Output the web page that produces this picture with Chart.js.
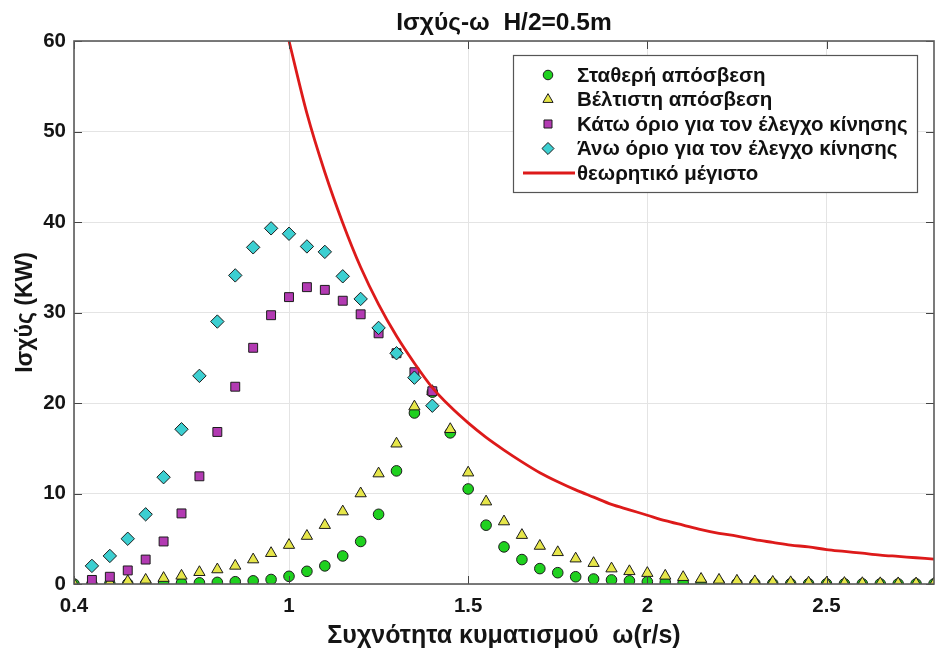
<!DOCTYPE html>
<html>
<head>
<meta charset="utf-8">
<script src="https://cdn.jsdelivr.net/npm/chart.js@4.4.1/dist/chart.umd.min.js"></script>
<style>
  html, body { margin: 0; padding: 0; background: #ffffff; }
  #wrap { width: 944px; height: 662px; }
</style>
</head>
<body>
<div id="wrap"><canvas id="chart" width="944" height="662"></canvas></div>
<script>
// Wave frequency ω (rad/s)
const omega = [
  0.40, 0.45, 0.50, 0.55, 0.60, 0.65, 0.70, 0.75, 0.80, 0.85,
  0.90, 0.95, 1.00, 1.05, 1.10, 1.15, 1.20, 1.25, 1.30, 1.35,
  1.40, 1.45, 1.50, 1.55, 1.60, 1.65, 1.70, 1.75, 1.80, 1.85,
  1.90, 1.95, 2.00, 2.05, 2.10, 2.15, 2.20, 2.25, 2.30, 2.35,
  2.40, 2.45, 2.50, 2.55, 2.60, 2.65, 2.70, 2.75, 2.80
];

const xTickValues = [0.4, 1, 1.5, 2, 2.5];

// Power (kW) – constant damping
const constantDamping = [
  0.00, 0.00, 0.02, 0.03, 0.05, 0.07, 0.10, 0.13, 0.18, 0.25,
  0.35, 0.50, 0.85, 1.40, 2.00, 3.10, 4.70, 7.70, 12.5, 18.9,
  21.2, 16.7, 10.5, 6.50, 4.10, 2.70, 1.70, 1.25, 0.80, 0.55,
  0.45, 0.35, 0.25, 0.18, 0.13, 0.10, 0.08, 0.06, 0.05, 0.04,
  0.03, 0.03, 0.02, 0.02, 0.02, 0.01, 0.01, 0.01, 0.01
];

// Power (kW) – optimal damping
const optimalDamping = [
  0.00, 0.10, 0.15, 0.30, 0.45, 0.65, 0.90, 1.30, 1.60, 2.00,
  2.70, 3.40, 4.30, 5.30, 6.50, 8.00, 10.0, 12.2, 15.5, 19.6,
  21.3, 17.1, 12.3, 9.10, 6.90, 5.40, 4.20, 3.50, 2.80, 2.30,
  1.70, 1.40, 1.20, 0.90, 0.75, 0.55, 0.45, 0.35, 0.28, 0.22,
  0.18, 0.15, 0.12, 0.10, 0.08, 0.07, 0.06, 0.05, 0.04
];

// Power (kW) – lower bound for motion control
const lowerMotionLimit = [
  null, 0.45, 0.80, 1.50, 2.70, 4.70, 7.80, 11.9, 16.8, 21.8,
  26.1, 29.7, 31.7, 32.8, 32.5, 31.3, 29.8, 27.7, 25.5, 23.4,
  21.3, null, null, null, null, null, null, null, null, null,
  null, null, null, null, null, null, null, null, null, null,
  null, null, null, null, null, null, null, null, null
];

// Power (kW) – upper bound for motion control
const upperMotionLimit = [
  null, 2.00, 3.10, 5.00, 7.70, 11.8, 17.1, 23.0, 29.0, 34.1,
  37.2, 39.3, 38.7, 37.3, 36.7, 34.0, 31.5, 28.3, 25.5, 22.8,
  19.7, null, null, null, null, null, null, null, null, null,
  null, null, null, null, null, null, null, null, null, null,
  null, null, null, null, null, null, null, null, null
];

// Power (kW) – theoretical maximum
const theoreticalMax = [
  null, null, null, null, null, null, null, null, null, null,
  null, null, 60.0, 52.0, 45.5, 39.9, 35.0, 30.9, 27.4, 24.4,
  21.7, 19.6, 17.8, 16.2, 14.8, 13.5, 12.3, 11.3, 10.4, 9.60,
  8.80, 8.20, 7.60, 7.00, 6.50, 6.00, 5.60, 5.30, 4.90, 4.60,
  4.30, 4.10, 3.80, 3.60, 3.40, 3.20, 3.05, 2.90, 2.75
];

const seriesNames = [
  'Σταθερή απόσβεση',
  'Βέλτιστη απόσβεση',
  'Κάτω όριο για τον έλεγχο κίνησης',
  'Άνω όριο για τον έλεγχο κίνησης',
  'θεωρητικό μέγιστο'
];

const FONT = '"Liberation Sans", Arial, Helvetica, sans-serif';
Chart.defaults.font.family = FONT;
Chart.defaults.color = '#1a1a1a';

function toPoints(values) {
  const pts = [];
  values.forEach((v, i) => { if (v !== null) pts.push({ x: omega[i], y: v }); });
  return pts;
}

const EDGE = '#1c1c1c';

function markerSet(label, values, style, fill, radius, order) {
  return {
    type: 'scatter',
    label,
    data: toPoints(values),
    pointStyle: style,
    pointRadius: radius,
    pointHoverRadius: radius,
    pointBackgroundColor: fill,
    pointBorderColor: EDGE,
    pointBorderWidth: 1,
    showLine: false,
    order
  };
}

// Legend box drawn inside the plot area, top right
const boxLegend = {
  id: 'boxLegend',
  afterDraw(chart) {
    const ctx = chart.ctx;
    const x0 = 513, y0 = 55, w = 404, h = 137;
    ctx.save();
    ctx.fillStyle = '#ffffff';
    ctx.fillRect(x0, y0, w, h);
    ctx.strokeStyle = '#555555';
    ctx.lineWidth = 1.2;
    ctx.strokeRect(x0 + 0.5, y0 + 0.5, w, h);
    ctx.font = 'bold 20.5px ' + FONT;
    ctx.textBaseline = 'middle';
    const rowY = [75, 99.5, 124, 148.5, 173];
    const symX = 548;
    const textX = 577;
    chart.data.datasets.forEach((ds, i) => {
      const y = rowY[i];
      if (ds.type === 'line') {
        ctx.strokeStyle = ds.borderColor;
        ctx.lineWidth = ds.borderWidth;
        ctx.beginPath();
        ctx.moveTo(523, y);
        ctx.lineTo(575, y);
        ctx.stroke();
      } else {
        ctx.fillStyle = ds.pointBackgroundColor;
        ctx.strokeStyle = ds.pointBorderColor;
        ctx.lineWidth = 1;
        Chart.helpers.drawPoint(ctx, {
          pointStyle: ds.pointStyle,
          radius: ds.pointRadius * 0.9,
          rotation: 0,
          borderWidth: 1
        }, symX, y);
      }
      ctx.fillStyle = '#111111';
      ctx.fillText(ds.label, textX, y + 1);
    });
    ctx.restore();
  }
};

// Axes frame with inward tick marks on all four sides
const axesFrame = {
  id: 'axesFrame',
  afterDatasetsDraw(chart) {
    const { ctx, chartArea: a } = chart;
    const xs = chart.scales.x, ys = chart.scales.y;
    const tl = 8;
    ctx.save();
    ctx.strokeStyle = '#444444';
    ctx.lineWidth = 1;
    ctx.beginPath();
    xs.ticks.forEach(t => {
      const px = Math.round(xs.getPixelForValue(t.value)) + 0.5;
      ctx.moveTo(px, a.bottom); ctx.lineTo(px, a.bottom - tl);
      ctx.moveTo(px, a.top); ctx.lineTo(px, a.top + tl);
    });
    ys.ticks.forEach(t => {
      const py = Math.round(ys.getPixelForValue(t.value)) + 0.5;
      ctx.moveTo(a.left, py); ctx.lineTo(a.left + tl, py);
      ctx.moveTo(a.right, py); ctx.lineTo(a.right - tl, py);
    });
    ctx.stroke();
    ctx.strokeStyle = '#5a5a5a';
    ctx.lineWidth = 1.6;
    ctx.strokeRect(a.left, a.top, a.right - a.left, a.bottom - a.top);
    ctx.restore();
  }
};

new Chart(document.getElementById('chart'), {
  data: {
    datasets: [
      markerSet(seriesNames[0], constantDamping, 'circle', '#1fd11f', 5.3, 5),
      markerSet(seriesNames[1], optimalDamping, 'triangle', '#e6e64a', 6.5, 4),
      markerSet(seriesNames[2], lowerMotionLimit, 'rect', '#b23ab2', 6.3, 3),
      markerSet(seriesNames[3], upperMotionLimit, 'rectRot', '#3ccfd1', 6.7, 2),
      {
        type: 'line',
        label: seriesNames[4],
        data: toPoints(theoreticalMax),
        borderColor: '#dd1a1a',
        borderWidth: 2.8,
        pointRadius: 0,
        cubicInterpolationMode: 'monotone',
        fill: false,
        order: 1
      }
    ]
  },
  options: {
    responsive: false,
    animation: false,
    events: [],
    layout: { padding: { left: 0, right: 10, top: 0, bottom: 0 } },
    plugins: {
      legend: { display: false },
      tooltip: { enabled: false },
      title: {
        display: true,
        text: 'Ισχύς-ω  H/2=0.5m',
        fullSize: false,
        color: '#111111',
        font: { size: 24.5, weight: 'bold' },
        padding: { top: 8.4, bottom: 3.2 }
      }
    },
    scales: {
      x: {
        type: 'linear',
        min: 0.4,
        max: 2.8,
        afterBuildTicks(scale) { scale.ticks = xTickValues.map(v => ({ value: v })); },
        afterFit(scale) { scale.height = 78; },
        grid: { color: '#e4e4e4', lineWidth: 1, drawTicks: false },
        border: { display: false },
        ticks: {
          padding: 10,
          color: '#151515',
          font: { size: 20.5, weight: 'bold' },
          maxRotation: 0,
          callback: v => String(Math.round(v * 10) / 10)
        },
        title: {
          display: true,
          text: 'Συχνότητα κυματισμού  ω(r/s)',
          color: '#151515',
          font: { size: 25, weight: 'bold' },
          padding: { top: 0, bottom: 11 }
        }
      },
      y: {
        type: 'linear',
        min: 0,
        max: 60,
        afterFit(scale) { scale.width = 74; },
        grid: { color: '#e4e4e4', lineWidth: 1, drawTicks: false },
        border: { display: false },
        ticks: {
          stepSize: 10,
          padding: 8,
          color: '#151515',
          font: { size: 20.5, weight: 'bold' }
        },
        title: {
          display: true,
          text: 'Ισχύς (KW)',
          color: '#151515',
          font: { size: 23, weight: 'bold' },
          padding: { top: 12, bottom: 0 }
        }
      }
    }
  },
  plugins: [axesFrame, boxLegend]
});
</script>
</body>
</html>
